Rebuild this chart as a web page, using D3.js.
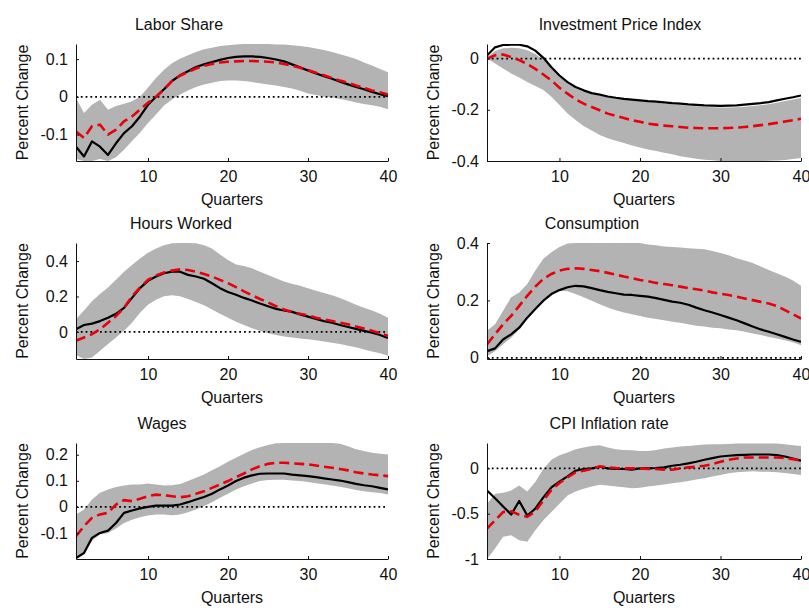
<!DOCTYPE html>
<html>
<head>
<meta charset="utf-8">
<script src="https://cdn.jsdelivr.net/npm/d3@7"></script>
<style>
  body { margin: 0; background: #fff; }
  svg text { font-family: "Liberation Sans", Arial, sans-serif; font-size: 16px; fill: #111; }
</style>
</head>
<body>
<svg width="809" height="608"></svg>
<script>
// quarters after the shock
const quarters = d3.range(1, 41);
const xTicks = [10, 20, 30, 40];
const xTickLabels = ["10", "20", "30", "40"];

// Labor Share
const laborBlack = [-0.132,-0.158,-0.118,-0.132,-0.154,-0.123,-0.096,-0.078,-0.052,-0.021,0.000,0.020,0.042,0.057,0.068,0.079,0.086,0.092,0.098,0.103,0.106,0.107,0.107,0.106,0.103,0.099,0.094,0.086,0.078,0.070,0.062,0.055,0.048,0.040,0.033,0.026,0.020,0.013,0.007,0.002];
const laborRed = [-0.092,-0.109,-0.078,-0.074,-0.100,-0.087,-0.065,-0.052,-0.034,-0.016,0.000,0.020,0.042,0.056,0.066,0.075,0.082,0.087,0.091,0.093,0.094,0.095,0.095,0.094,0.093,0.091,0.087,0.083,0.077,0.071,0.064,0.057,0.050,0.043,0.037,0.030,0.024,0.017,0.012,0.006];
const laborLow = [-0.165,-0.17,-0.17,-0.165,-0.17,-0.16,-0.14,-0.117,-0.095,-0.069,-0.047,-0.023,-0.007,0.006,0.017,0.026,0.033,0.037,0.042,0.043,0.043,0.042,0.039,0.036,0.033,0.030,0.026,0.022,0.016,0.009,0.005,0.001,-0.002,-0.006,-0.010,-0.015,-0.019,-0.022,-0.026,-0.033];
const laborHigh = [-0.003,-0.043,-0.021,-0.008,-0.034,-0.024,-0.018,-0.012,0.000,0.025,0.050,0.072,0.089,0.101,0.110,0.119,0.126,0.130,0.135,0.137,0.139,0.140,0.140,0.140,0.140,0.139,0.139,0.137,0.135,0.132,0.128,0.124,0.119,0.113,0.107,0.100,0.091,0.083,0.074,0.065];
const laborTicks = [-0.1, 0, 0.1];
const laborTickLabels = ["-0.1", "0", "0.1"];

// Investment Price Index
const investBlack = [0.012,0.044,0.053,0.054,0.054,0.048,0.031,0.003,-0.034,-0.066,-0.092,-0.111,-0.124,-0.135,-0.141,-0.148,-0.153,-0.157,-0.160,-0.163,-0.166,-0.168,-0.171,-0.174,-0.176,-0.179,-0.181,-0.183,-0.184,-0.185,-0.184,-0.183,-0.180,-0.177,-0.174,-0.170,-0.163,-0.157,-0.151,-0.144];
const investRed = [0.000,0.013,0.016,0.006,-0.006,-0.021,-0.040,-0.062,-0.085,-0.114,-0.137,-0.159,-0.176,-0.189,-0.202,-0.215,-0.224,-0.232,-0.241,-0.247,-0.254,-0.258,-0.262,-0.264,-0.267,-0.270,-0.271,-0.272,-0.272,-0.272,-0.271,-0.270,-0.267,-0.264,-0.260,-0.256,-0.251,-0.246,-0.241,-0.235];
const investLow = [0.000,-0.019,-0.039,-0.058,-0.074,-0.091,-0.107,-0.123,-0.149,-0.181,-0.214,-0.240,-0.263,-0.281,-0.298,-0.311,-0.321,-0.330,-0.339,-0.347,-0.355,-0.361,-0.368,-0.374,-0.381,-0.386,-0.391,-0.395,-0.397,-0.400,-0.400,-0.400,-0.400,-0.400,-0.400,-0.399,-0.398,-0.396,-0.392,-0.388];
const investHigh = [0.005,0.030,0.040,0.042,0.040,0.033,0.018,-0.005,-0.038,-0.070,-0.096,-0.115,-0.128,-0.138,-0.145,-0.151,-0.156,-0.160,-0.163,-0.166,-0.169,-0.172,-0.175,-0.178,-0.181,-0.184,-0.186,-0.188,-0.190,-0.191,-0.191,-0.190,-0.188,-0.185,-0.182,-0.178,-0.172,-0.166,-0.160,-0.154];
const investTicks = [-0.4, -0.2, 0];
const investTickLabels = ["-0.4", "-0.2", "0"];

// Hours Worked
const hoursBlack = [0.015,0.039,0.047,0.061,0.080,0.102,0.136,0.192,0.247,0.288,0.313,0.331,0.340,0.340,0.322,0.313,0.300,0.275,0.247,0.225,0.210,0.192,0.177,0.160,0.145,0.130,0.121,0.113,0.099,0.086,0.073,0.061,0.052,0.039,0.028,0.017,0.006,-0.004,-0.017,-0.035];
const hoursRed = [-0.050,-0.032,-0.013,0.015,0.052,0.089,0.136,0.201,0.251,0.294,0.318,0.335,0.346,0.353,0.350,0.340,0.327,0.313,0.294,0.275,0.253,0.229,0.207,0.186,0.167,0.145,0.127,0.113,0.102,0.093,0.080,0.071,0.061,0.052,0.043,0.030,0.019,0.006,-0.007,-0.022];
const hoursLow = [-0.130,-0.153,-0.145,-0.106,-0.069,-0.032,0.006,0.052,0.108,0.154,0.182,0.201,0.207,0.201,0.186,0.169,0.151,0.127,0.102,0.080,0.058,0.039,0.020,0.006,-0.007,-0.017,-0.026,-0.032,-0.037,-0.041,-0.047,-0.054,-0.061,-0.069,-0.078,-0.087,-0.099,-0.110,-0.121,-0.134];
const hoursHigh = [0.071,0.121,0.173,0.214,0.251,0.294,0.340,0.378,0.415,0.447,0.471,0.489,0.500,0.502,0.502,0.500,0.490,0.471,0.437,0.406,0.381,0.372,0.359,0.340,0.322,0.303,0.285,0.272,0.260,0.247,0.233,0.220,0.207,0.192,0.173,0.154,0.136,0.121,0.102,0.080];
const hoursTicks = [0, 0.2, 0.4];
const hoursTickLabels = ["0", "0.2", "0.4"];

// Consumption
const consBlack = [0.023,0.033,0.064,0.082,0.105,0.140,0.170,0.199,0.222,0.236,0.246,0.251,0.249,0.243,0.236,0.230,0.225,0.220,0.219,0.216,0.213,0.208,0.202,0.196,0.192,0.185,0.175,0.166,0.158,0.149,0.140,0.131,0.120,0.109,0.099,0.091,0.082,0.073,0.064,0.056];
const consRed = [0.047,0.082,0.117,0.146,0.181,0.216,0.248,0.275,0.292,0.304,0.310,0.312,0.310,0.306,0.302,0.296,0.290,0.283,0.278,0.271,0.267,0.261,0.257,0.253,0.248,0.243,0.239,0.234,0.228,0.223,0.219,0.213,0.207,0.201,0.195,0.189,0.181,0.166,0.152,0.137];
const consLow = [0.006,0.023,0.047,0.070,0.099,0.135,0.170,0.199,0.222,0.234,0.232,0.222,0.211,0.199,0.187,0.175,0.166,0.158,0.152,0.146,0.140,0.135,0.131,0.126,0.122,0.117,0.112,0.109,0.105,0.103,0.099,0.096,0.091,0.085,0.080,0.073,0.067,0.061,0.054,0.044];
const consHigh = [0.094,0.117,0.164,0.211,0.228,0.257,0.304,0.345,0.368,0.386,0.398,0.400,0.400,0.400,0.400,0.400,0.400,0.400,0.400,0.400,0.395,0.392,0.388,0.386,0.384,0.382,0.380,0.378,0.372,0.365,0.357,0.347,0.339,0.330,0.318,0.306,0.295,0.283,0.269,0.251];
const consTicks = [0, 0.2, 0.4];
const consTickLabels = ["0", "0.2", "0.4"];

// Wages
const wageBlack = [-0.196,-0.177,-0.119,-0.100,-0.091,-0.062,-0.023,-0.014,-0.006,0.000,0.005,0.005,0.005,0.009,0.018,0.028,0.038,0.050,0.067,0.082,0.099,0.112,0.121,0.127,0.128,0.128,0.128,0.124,0.121,0.118,0.114,0.109,0.105,0.101,0.095,0.088,0.083,0.079,0.073,0.067];
const wageRed = [-0.113,-0.074,-0.042,-0.029,-0.023,0.009,0.026,0.022,0.031,0.041,0.047,0.045,0.041,0.037,0.041,0.050,0.060,0.073,0.086,0.099,0.114,0.128,0.144,0.156,0.165,0.169,0.169,0.167,0.165,0.163,0.159,0.154,0.150,0.145,0.140,0.133,0.128,0.124,0.121,0.118];
const wageLow = [-0.200,-0.171,-0.129,-0.106,-0.100,-0.083,-0.062,-0.049,-0.040,-0.033,-0.029,-0.029,-0.032,-0.029,-0.021,-0.010,0.003,0.018,0.035,0.050,0.067,0.079,0.090,0.099,0.103,0.104,0.104,0.101,0.099,0.095,0.091,0.087,0.082,0.077,0.071,0.065,0.060,0.056,0.053,0.047];
const wageHigh = [-0.029,-0.010,0.028,0.054,0.067,0.076,0.082,0.086,0.086,0.090,0.086,0.082,0.083,0.088,0.099,0.112,0.124,0.140,0.156,0.173,0.188,0.204,0.218,0.229,0.237,0.244,0.245,0.245,0.245,0.245,0.245,0.245,0.245,0.242,0.233,0.221,0.214,0.208,0.204,0.201];
const wageTicks = [-0.1, 0, 0.1, 0.2];
const wageTickLabels = ["-0.1", "0", "0.1", "0.2"];

// CPI Inflation rate
const cpiBlack = [-0.245,-0.330,-0.420,-0.510,-0.360,-0.520,-0.445,-0.320,-0.210,-0.146,-0.088,-0.026,-0.007,0.000,0.018,0.000,-0.007,-0.007,-0.015,0.000,0.000,0.004,0.011,0.029,0.040,0.055,0.073,0.095,0.113,0.131,0.139,0.146,0.150,0.153,0.153,0.153,0.146,0.131,0.109,0.084];
const cpiRed = [-0.664,-0.573,-0.482,-0.474,-0.511,-0.536,-0.474,-0.354,-0.237,-0.161,-0.099,-0.044,-0.026,-0.007,0.022,0.011,0.004,0.000,0.000,0.000,-0.007,-0.007,-0.015,-0.015,0.000,0.011,0.018,0.029,0.047,0.073,0.095,0.109,0.120,0.120,0.120,0.120,0.120,0.113,0.102,0.084];
const cpiLow = [-1.000,-0.883,-0.755,-0.737,-0.792,-0.810,-0.682,-0.573,-0.482,-0.390,-0.299,-0.255,-0.226,-0.200,-0.182,-0.190,-0.200,-0.208,-0.219,-0.215,-0.200,-0.190,-0.179,-0.164,-0.153,-0.139,-0.124,-0.109,-0.091,-0.073,-0.055,-0.044,-0.036,-0.033,-0.036,-0.036,-0.044,-0.051,-0.062,-0.073];
const cpiHigh = [-0.390,-0.281,-0.270,-0.245,-0.190,-0.255,-0.150,-0.007,0.095,0.146,0.175,0.212,0.230,0.248,0.255,0.230,0.212,0.204,0.200,0.193,0.193,0.204,0.219,0.230,0.241,0.248,0.255,0.263,0.266,0.266,0.270,0.274,0.274,0.274,0.274,0.274,0.274,0.266,0.255,0.248];
const cpiTicks = [-1, -0.5, 0];
const cpiTickLabels = ["-1", "-0.5", "0"];

// layout of the 3x2 grid
const cols = [{ x0: 76, x1: 388 }, { x0: 487, x1: 801 }];
const rows = [{ y0: 44, y1: 161 }, { y0: 243, y1: 359 }, { y0: 443, y1: 559 }];

const panels = [
  { title: "Labor Share", col: 0, row: 0, titleX: 179, domain: [-0.17, 0.14], black: laborBlack, red: laborRed, lo: laborLow, hi: laborHigh, ticks: laborTicks, labels: laborTickLabels },
  { title: "Investment Price Index", col: 1, row: 0, titleX: 620, domain: [-0.4, 0.057], black: investBlack, red: investRed, lo: investLow, hi: investHigh, ticks: investTicks, labels: investTickLabels },
  { title: "Hours Worked", col: 0, row: 1, titleX: 181, domain: [-0.153, 0.502], black: hoursBlack, red: hoursRed, lo: hoursLow, hi: hoursHigh, ticks: hoursTicks, labels: hoursTickLabels },
  { title: "Consumption", col: 1, row: 1, titleX: 592, domain: [-0.004, 0.4], black: consBlack, red: consRed, lo: consLow, hi: consHigh, ticks: consTicks, labels: consTickLabels },
  { title: "Wages", col: 0, row: 2, titleX: 162, domain: [-0.2, 0.245], black: wageBlack, red: wageRed, lo: wageLow, hi: wageHigh, ticks: wageTicks, labels: wageTickLabels },
  { title: "CPI Inflation rate", col: 1, row: 2, titleX: 609, domain: [-1, 0.28], black: cpiBlack, red: cpiRed, lo: cpiLow, hi: cpiHigh, ticks: cpiTicks, labels: cpiTickLabels },
];

const svg = d3.select("svg");
const font = '"Liberation Sans", Arial, sans-serif';

panels.forEach((p, i) => {
  const { x0, x1 } = cols[p.col];
  const { y0, y1 } = rows[p.row];

  const x = d3.scaleLinear().domain([1, 40]).range([x0, x1]);
  const y = d3.scaleLinear().domain(p.domain).range([y1, y0]);

  svg.append("clipPath").attr("id", "clip" + i)
    .append("rect")
    .attr("x", x0).attr("y", y0)
    .attr("width", x1 - x0).attr("height", y1 - y0);

  const g = svg.append("g").attr("clip-path", `url(#clip${i})`);

  // confidence band
  g.append("path")
    .datum(quarters)
    .attr("fill", "#b3b3b3")
    .attr("d", d3.area()
      .x((q) => x(q))
      .y0((q, j) => y(p.lo[j]))
      .y1((q, j) => y(p.hi[j])));

  // zero line
  g.append("line")
    .attr("x1", x0).attr("x2", x1)
    .attr("y1", y(0)).attr("y2", y(0))
    .attr("stroke", "#000")
    .attr("stroke-width", 1.8)
    .attr("stroke-dasharray", "1.8,3");

  g.append("path")
    .datum(quarters)
    .attr("fill", "none")
    .attr("stroke", "#000")
    .attr("stroke-width", 2.2)
    .attr("stroke-linejoin", "round")
    .attr("d", d3.line().x((q) => x(q)).y((q, j) => y(p.black[j])));

  g.append("path")
    .datum(quarters)
    .attr("fill", "none")
    .attr("stroke", "#e8000b")
    .attr("stroke-width", 2.6)
    .attr("stroke-dasharray", "10,5")
    .attr("d", d3.line().x((q) => x(q)).y((q, j) => y(p.red[j])));

  // axes, ticks pointing inwards
  svg.append("g")
    .attr("transform", `translate(0,${y1})`)
    .call(d3.axisBottom(x).tickValues(xTicks)
      .tickFormat((d, j) => xTickLabels[j])
      .tickSize(-3).tickSizeOuter(0).tickPadding(9.5))
    .call((a) => a.selectAll("text").attr("font-size", 16).attr("font-family", font))
    .attr("color", "#111");

  svg.append("g")
    .attr("transform", `translate(${x0},0)`)
    .call(d3.axisLeft(y).tickValues(p.ticks)
      .tickFormat((d, j) => p.labels[j])
      .tickSize(-3).tickSizeOuter(0).tickPadding(8))
    .call((a) => a.selectAll("text").attr("font-size", 16).attr("font-family", font))
    .attr("color", "#111");

  svg.append("text")
    .attr("x", p.titleX).attr("y", y0 - 14)
    .attr("text-anchor", "middle")
    .text(p.title);

  svg.append("text")
    .attr("x", (x0 + x1) / 2).attr("y", y1 + 44)
    .attr("text-anchor", "middle")
    .text("Quarters");

  svg.append("text")
    .attr("transform", `translate(${x0 - 48},${(y0 + y1) / 2}) rotate(-90)`)
    .attr("text-anchor", "middle")
    .text("Percent Change");
});
</script>
</body>
</html>
